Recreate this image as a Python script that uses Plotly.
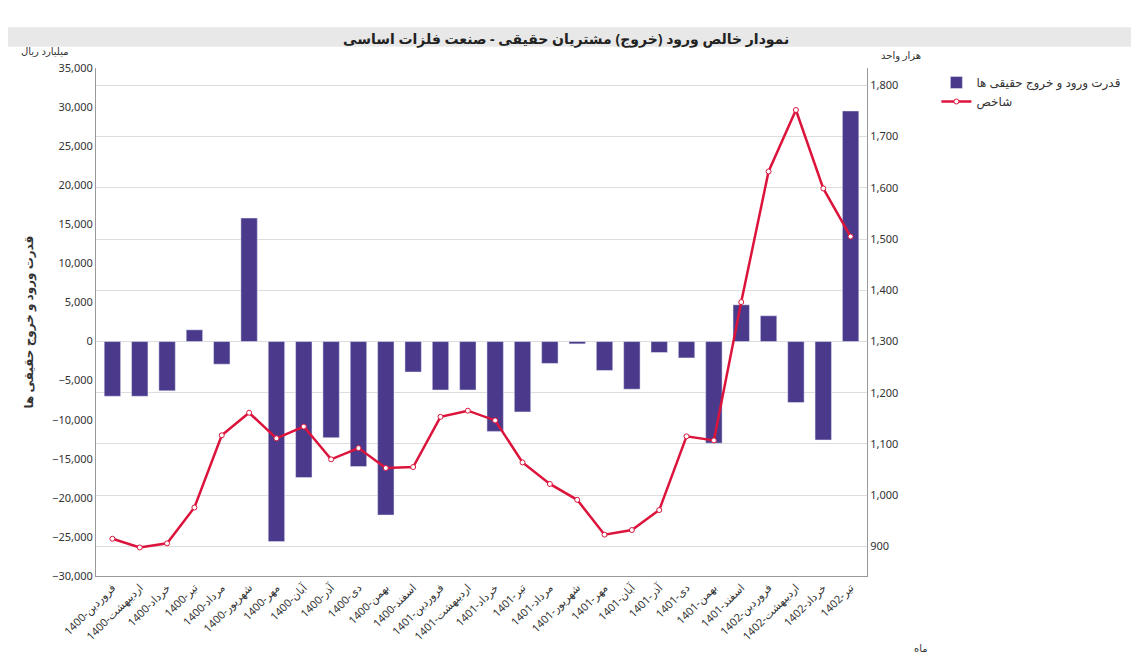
import plotly.graph_objects as go

months = ["فروردین","اردیبهشت","خرداد","تیر","مرداد","شهریور","مهر","آبان","آذر","دی","بهمن","اسفند"]
categories = [f"1400-{m}" for m in months] + [f"1401-{m}" for m in months] + [f"1402-{m}" for m in months[:4]]
flow = [-7000,-7000,-6300,1500,-2900,15800,-25600,-17400,-12300,-16000,-22200,-3900,
        -6200,-6200,-11500,-9000,-2800,-300,-3700,-6100,-1400,-2100,-13000,4700,
        3300,-7800,-12600,29500]
index = [915,898,906,976,1117,1161,1111,1134,1070,1092,1053,1055,
         1153,1165,1146,1064,1022,991,923,932,971,1115,1107,1377,
         1632,1752,1599,1505]

fig = go.Figure()
fig.add_bar(x=categories, y=flow, name="قدرت ورود و خروج حقیقی ها",
            marker_color="#4b3a8c", width=0.6)
fig.add_scatter(x=categories, y=index, name="شاخص", yaxis="y2", mode="lines+markers",
                line=dict(color="#dc143c", width=2.5),
                marker=dict(size=5, color="white", line=dict(color="#dc143c", width=1)))

fig.update_layout(
    width=1139, height=658, paper_bgcolor="white", plot_bgcolor="white",
    margin=dict(l=88, r=280, t=60, b=90),
    font=dict(family="Noto Sans, DejaVu Sans", size=11, color="#333"),
    showlegend=True,
    legend=dict(x=1.09, y=1.0, xanchor="left", yanchor="top", font=dict(size=12)),
    xaxis=dict(tickangle=-45, showgrid=False, linecolor="#999", tickfont=dict(size=11),
               range=[-0.6, 27.6]),
    yaxis=dict(range=[-30000, 35000], dtick=5000, tickformat=",", showgrid=False,
               zeroline=False, linecolor="#999", showline=True,
               title=dict(text="<b>قدرت ورود و خروج حقیقی ها</b>", font=dict(size=12))),
    yaxis2=dict(overlaying="y", side="right", range=[1300 - 30000/35000*534, 1300 + 534], dtick=100,
                showgrid=True, gridcolor="#ddd", showline=True, linecolor="#999", tickformat=","),
    annotations=[
        dict(text="<b>نمودار خالص ورود (خروج) مشتریان حقیقی - صنعت فلزات اساسی</b>", x=0.61, y=1.0,
             xref="paper", yref="paper", yanchor="middle", yshift=30, showarrow=False, font=dict(size=14, color="#222")),
        dict(text="میلیارد ریال", x=0, y=1.0, xref="paper", yref="paper", xanchor="right", yanchor="bottom",
             xshift=-25, yshift=8, showarrow=False, font=dict(size=10)),
        dict(text="هزار واحد", x=1, y=1.0, xref="paper", yref="paper", xanchor="left", yanchor="bottom",
             xshift=12, yshift=4, showarrow=False, font=dict(size=10)),
        dict(text="ماه", x=1, y=0, xref="paper", yref="paper", xanchor="left", yanchor="middle",
             xshift=45, yshift=-72, showarrow=False, font=dict(size=10)),
    ],
    shapes=[dict(type="rect", xref="paper", yref="paper", x0=-0.12, x1=1.36, y0=1.042, y1=1.08,
                 fillcolor="#e8e8e8", line=dict(width=0), layer="below")],
)
fig.write_html("out.html")
